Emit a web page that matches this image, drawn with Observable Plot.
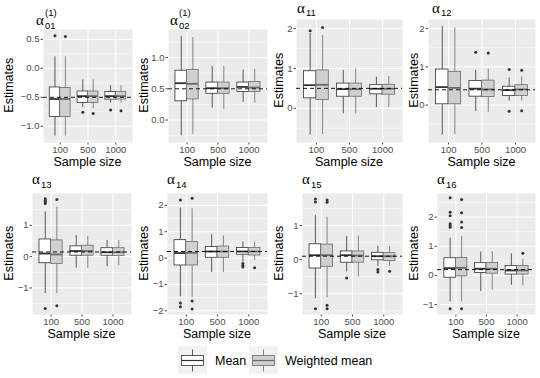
<!DOCTYPE html>
<html><head><meta charset="utf-8">
<script src="https://cdn.jsdelivr.net/npm/d3@7"></script>
<script src="https://cdn.jsdelivr.net/npm/@observablehq/plot@0.6"></script>
<style>
body{margin:0;background:#fff;}
#fig{position:relative;width:540px;height:378px;overflow:hidden;font-family:"Liberation Sans",Arial,sans-serif;background:#fff;}
.pan{position:absolute;}
.ttl{position:absolute;font-family:"Liberation Serif","Times New Roman",serif;font-size:15px;line-height:15px;white-space:nowrap;color:#000;}
.ttl .s{position:absolute;font-family:"Liberation Sans",Arial,sans-serif;font-size:9.5px;line-height:9.5px;white-space:nowrap;}
.xt{position:absolute;font-size:12.5px;line-height:12.5px;width:120px;text-align:center;color:#000;}
.yt{position:absolute;font-size:12.5px;line-height:12.5px;width:100px;text-align:center;transform:rotate(-90deg);color:#000;}
</style></head><body><div id="fig"></div>
<script>
// ---------- data ----------
const sizes = ["100", "500", "1000"];
const seriesNames = ["Mean", "Weighted mean"];
const paramIds = ["01", "02", "11", "12", "13", "14", "15", "16"];
const trueValues = [-0.5, 0.5, 0.5, 0.4, 0.15, 0.25, 0.1, 0.2];
const yDomains = [[-1.28, 0.67], [-0.36, 1.45], [-0.86, 2.23], [-0.98, 2.24],
                  [-1.85, 2.02], [-2.14, 2.45], [-1.61, 1.94], [-1.34, 2.81]];
const yTicks = [[-1, -0.5, 0, 0.5], [0, 0.5, 1], [0, 1, 2], [0, 1, 2],
                [-1, 0, 1], [-2, -1, 0, 1, 2], [-1, 0, 1], [-1, 0, 1, 2]];
const yDecimals = [1, 1, 0, 0, 0, 0, 0, 0];
// order within each panel: 100 Mean, 100 Weighted, 500 Mean, 500 Weighted, 1000 Mean, 1000 Weighted
const whiskerLow = [
  [-1.17, -1.17, -0.68, -0.70, -0.60, -0.60],
  [-0.25, -0.23, 0.19, 0.17, 0.28, 0.27],
  [-0.67, -0.66, -0.14, -0.14, 0.02, 0.02],
  [-0.79, -0.77, -0.17, -0.19, 0.11, 0.11],
  [-1.18, -1.18, -0.37, -0.37, -0.32, -0.29],
  [-1.47, -1.50, -0.55, -0.55, -0.15, -0.09],
  [-1.15, -1.12, -0.36, -0.51, -0.20, -0.20],
  [-0.91, -0.91, -0.55, -0.51, -0.34, -0.36]];
const lowerQuartile = [
  [-0.84, -0.84, -0.60, -0.60, -0.54, -0.54],
  [0.30, 0.33, 0.42, 0.42, 0.45, 0.45],
  [0.25, 0.21, 0.29, 0.29, 0.35, 0.34],
  [0.02, 0.02, 0.22, 0.21, 0.24, 0.24],
  [-0.21, -0.23, 0.03, 0.03, 0.03, 0.02],
  [-0.28, -0.28, 0.01, 0.01, 0.13, 0.10],
  [-0.26, -0.21, -0.09, -0.09, -0.02, -0.04],
  [-0.08, -0.03, 0.08, 0.06, 0.03, 0.03]];
const medians = [
  [-0.53, -0.53, -0.48, -0.48, -0.48, -0.48],
  [0.59, 0.58, 0.51, 0.51, 0.53, 0.52],
  [0.58, 0.59, 0.48, 0.48, 0.49, 0.49],
  [0.47, 0.45, 0.43, 0.41, 0.39, 0.41],
  [0.10, 0.07, 0.18, 0.18, 0.14, 0.14],
  [0.19, 0.20, 0.25, 0.25, 0.25, 0.25],
  [0.13, 0.13, 0.13, 0.12, 0.10, 0.10],
  [0.25, 0.26, 0.23, 0.23, 0.17, 0.17]];
const upperQuartile = [
  [-0.33, -0.34, -0.40, -0.40, -0.41, -0.41],
  [0.79, 0.80, 0.60, 0.60, 0.60, 0.61],
  [0.93, 0.95, 0.62, 0.62, 0.58, 0.59],
  [0.93, 0.87, 0.63, 0.64, 0.48, 0.52],
  [0.55, 0.52, 0.33, 0.35, 0.27, 0.27],
  [0.68, 0.61, 0.42, 0.44, 0.38, 0.38],
  [0.45, 0.44, 0.24, 0.24, 0.20, 0.19],
  [0.59, 0.60, 0.42, 0.43, 0.32, 0.32]];
const whiskerHigh = [
  [0.20, 0.20, -0.20, -0.20, -0.30, -0.30],
  [1.34, 1.32, 0.86, 0.86, 0.80, 0.81],
  [1.88, 1.83, 0.95, 0.99, 0.78, 0.80],
  [2.06, 2.02, 0.91, 0.94, 0.71, 0.74],
  [1.43, 1.59, 0.68, 0.65, 0.52, 0.52],
  [1.90, 1.87, 0.89, 0.84, 0.61, 0.61],
  [1.29, 1.24, 0.68, 0.69, 0.39, 0.39],
  [1.28, 1.34, 0.80, 0.82, 0.74, 0.55]];
// [parameter, sample size, series, value]
const outliers = [
  ["01", "100", "Mean", 0.56], ["01", "100", "Weighted mean", 0.55],
  ["01", "500", "Mean", -0.76], ["01", "500", "Weighted mean", -0.78],
  ["01", "1000", "Mean", -0.72], ["01", "1000", "Weighted mean", -0.73],
  ["11", "100", "Mean", 1.95], ["11", "100", "Weighted mean", 2.03],
  ["12", "500", "Mean", 1.38], ["12", "500", "Weighted mean", 1.36],
  ["12", "1000", "Mean", 0.93], ["12", "1000", "Mean", -0.16],
  ["12", "1000", "Weighted mean", 0.91], ["12", "1000", "Weighted mean", -0.15],
  ["13", "100", "Mean", 1.85], ["13", "100", "Mean", 1.80], ["13", "100", "Mean", 1.75],
  ["13", "100", "Mean", 1.70], ["13", "100", "Mean", -1.66],
  ["13", "100", "Weighted mean", 1.83], ["13", "100", "Weighted mean", -1.57],
  ["14", "100", "Mean", 2.2], ["14", "100", "Mean", -1.7], ["14", "100", "Mean", -1.85],
  ["14", "100", "Weighted mean", 2.27], ["14", "100", "Weighted mean", -1.63],
  ["14", "100", "Weighted mean", -1.93],
  ["14", "1000", "Mean", -0.21], ["14", "1000", "Mean", -0.28], ["14", "1000", "Mean", -0.34],
  ["14", "1000", "Weighted mean", -0.37],
  ["15", "100", "Mean", 1.78], ["15", "100", "Mean", 1.69], ["15", "100", "Mean", -1.44],
  ["15", "100", "Weighted mean", 1.75], ["15", "100", "Weighted mean", 1.68],
  ["15", "100", "Weighted mean", -1.34], ["15", "100", "Weighted mean", -1.44],
  ["15", "500", "Mean", -0.54],
  ["15", "1000", "Mean", -0.29], ["15", "1000", "Mean", -0.36],
  ["15", "1000", "Weighted mean", -0.34],
  ["16", "100", "Mean", 2.66], ["16", "100", "Mean", 2.17], ["16", "100", "Mean", 2.05],
  ["16", "100", "Mean", 1.77], ["16", "100", "Mean", 1.71], ["16", "100", "Mean", 1.65],
  ["16", "100", "Mean", -1.14],
  ["16", "100", "Weighted mean", 2.60], ["16", "100", "Weighted mean", 2.15],
  ["16", "100", "Weighted mean", 1.83], ["16", "100", "Weighted mean", 1.64],
  ["16", "100", "Weighted mean", -1.14],
  ["16", "1000", "Weighted mean", 0.76]];

// ---------- layout / style ----------
const panelLeft = [43, 168, 296, 428, 32, 167, 302, 437];
const panelRight = [132, 267, 402, 535, 131, 267, 402, 535];
const panelTop = [29, 29, 19, 19, 193, 193, 193, 193];
const panelBottom = [142, 142, 142, 142, 314, 314, 314, 314];
const svgTop = [0, 170];
const svgH = 160;
const titleX = [36, 170, 297, 432, 32, 167, 302, 437];
const titleCY = [22, 22, 10, 10, 181, 181, 181, 181];
const boxFill = {"Mean": "#FFFFFF", "Weighted mean": "#D0D0D0"};
const boxStroke = {"Mean": "#333333", "Weighted mean": "#6A6A6A"};
const boxW = 0.375;
const font = '"Liberation Sans", Arial, sans-serif';

const fig = document.getElementById("fig");

function xc(size, series) {
  return sizes.indexOf(size) + 1 + (series === "Mean" ? -1 : 1) * boxW / 2;
}

for (let k = 0; k < 8; k++) {
  const c = k % 4, r = Math.floor(k / 4);
  const left0 = c * 135, top0 = svgTop[r];
  const rows = [];
  sizes.forEach((s, i) => seriesNames.forEach((sn, j) => {
    const n = i * 2 + j;
    rows.push({size: s, series: sn, lo: whiskerLow[k][n], q1: lowerQuartile[k][n],
      med: medians[k][n], q3: upperQuartile[k][n], hi: whiskerHigh[k][n]});
  }));
  const outs = outliers.filter(o => o[0] === paramIds[k])
    .map(o => ({size: o[1], series: o[2], v: o[3]}));
  const ticks = yTicks[k];
  const step = ticks[1] - ticks[0];
  const dom = yDomains[k];
  const minors = [ticks[0] - step / 2, ...ticks.map(t => t + step / 2)]
    .filter(t => t > dom[0] && t < dom[1]);
  const fmt = d3.format("." + yDecimals[k] + "f");

  const marks = [
    Plot.frame({fill: "#EBEBEB", stroke: "none"}),
    Plot.ruleY(minors, {stroke: "#FFFFFF", strokeWidth: 0.5}),
    Plot.ruleY(ticks, {stroke: "#FFFFFF", strokeWidth: 1}),
    Plot.ruleX([1, 2, 3], {stroke: "#FFFFFF", strokeWidth: 1})
  ];
  for (const sn of seriesNames) {
    const d = rows.filter(q => q.series === sn);
    marks.push(
      Plot.ruleX(d, {x: q => xc(q.size, q.series), y1: "lo", y2: "q1", stroke: boxStroke[sn], strokeWidth: 0.8}),
      Plot.ruleX(d, {x: q => xc(q.size, q.series), y1: "q3", y2: "hi", stroke: boxStroke[sn], strokeWidth: 0.8}),
      Plot.rect(d, {x1: q => xc(q.size, q.series) - boxW / 2, x2: q => xc(q.size, q.series) + boxW / 2,
        y1: "q1", y2: "q3", fill: boxFill[sn], stroke: boxStroke[sn], strokeWidth: 0.8}),
      Plot.ruleY(d, {x1: q => xc(q.size, q.series) - boxW / 2, x2: q => xc(q.size, q.series) + boxW / 2,
        y: "med", stroke: boxStroke[sn], strokeWidth: 1.8}),
      Plot.dot(outs.filter(o => o.series === sn), {x: o => xc(o.size, o.series), y: "v", r: 1.5,
        fill: "#333333", stroke: "none"})
    );
  }
  marks.push(Plot.ruleY([trueValues[k]], {stroke: "#000000", strokeWidth: 0.9, strokeDasharray: "4,3"}));

  const svg = Plot.plot({
    width: 135, height: svgH,
    marginLeft: panelLeft[k] - left0,
    marginRight: left0 + 135 - panelRight[k],
    marginTop: panelTop[k] - top0,
    marginBottom: top0 + svgH - panelBottom[k],
    x: {domain: [0.4, 3.6], ticks: [1, 2, 3], tickFormat: d => sizes[d - 1], tickSize: 2.5, tickPadding: 1.5, label: null},
    y: {domain: dom, ticks: ticks, tickFormat: fmt, tickSize: 2.5, tickPadding: 1.5, label: null},
    style: {fontFamily: font, fontSize: "9.5px", color: "#4D4D4D", background: "none", overflow: "visible"},
    marks
  });
  const wrap = document.createElement("div");
  wrap.className = "pan";
  wrap.style.left = left0 + "px";
  wrap.style.top = top0 + "px";
  wrap.appendChild(svg);
  fig.appendChild(wrap);

  // title
  const t = document.createElement("div");
  t.className = "ttl";
  t.style.left = titleX[k] + "px";
  t.style.top = (titleCY[k] - 9.5) + "px";
  const a = document.createElement("span");
  a.textContent = "α";
  t.appendChild(a);
  const sub = document.createElement("span");
  sub.className = "s";
  sub.textContent = paramIds[k];
  sub.style.left = "9px";
  sub.style.top = (k < 2 ? 8.8 : (k < 4 ? 7.6 : 8.2)) + "px";
  t.appendChild(sub);
  if (k < 2) {
    const sup = document.createElement("span");
    sup.className = "s";
    sup.textContent = "(1)";
    sup.style.left = "9px";
    sup.style.top = "-4.4px";
    t.appendChild(sup);
  }
  fig.appendChild(t);

  // axis titles
  const xt = document.createElement("div");
  xt.className = "xt";
  xt.textContent = "Sample size";
  xt.style.left = ((panelLeft[k] + panelRight[k]) / 2 - 60) + "px";
  xt.style.top = (panelBottom[k] + 14) + "px";
  fig.appendChild(xt);
  const yt = document.createElement("div");
  yt.className = "yt";
  yt.textContent = "Estimates";
  yt.style.left = (left0 + 9 - 50) + "px";
  yt.style.top = ((panelTop[k] + panelBottom[k]) / 2 - 6.25) + "px";
  fig.appendChild(yt);
}

// ---------- legend ----------
const keys = [
  {series: "Mean", kx: 178, tx: 215},
  {series: "Weighted mean", kx: 249, tx: 285}];
const leg = d3.select(fig).append("svg")
  .style("position", "absolute").style("left", "0px").style("top", "0px")
  .attr("width", 540).attr("height", 378).style("pointer-events", "none");
for (const k of keys) {
  const g = leg.append("g");
  g.append("rect").attr("x", k.kx).attr("y", 346).attr("width", 29).attr("height", 28).attr("fill", "#F2F2F2");
  const cx = k.kx + 14.5;
  g.append("line").attr("x1", cx).attr("x2", cx).attr("y1", 349.5).attr("y2", 355.5).attr("stroke", boxStroke[k.series]).attr("stroke-width", 0.8);
  g.append("line").attr("x1", cx).attr("x2", cx).attr("y1", 365.5).attr("y2", 371.5).attr("stroke", boxStroke[k.series]).attr("stroke-width", 0.8);
  g.append("rect").attr("x", k.kx + 3.5).attr("y", 355.5).attr("width", 22).attr("height", 10)
    .attr("fill", boxFill[k.series]).attr("stroke", boxStroke[k.series]).attr("stroke-width", 0.8);
  g.append("line").attr("x1", k.kx + 3.5).attr("x2", k.kx + 25.5).attr("y1", 360.5).attr("y2", 360.5)
    .attr("stroke", boxStroke[k.series]).attr("stroke-width", 1.2);
  g.append("text").attr("x", k.tx).attr("y", 364.5).attr("font-family", font).attr("font-size", 12.5)
    .attr("fill", "#000").text(k.series);
}
</script></body></html>
